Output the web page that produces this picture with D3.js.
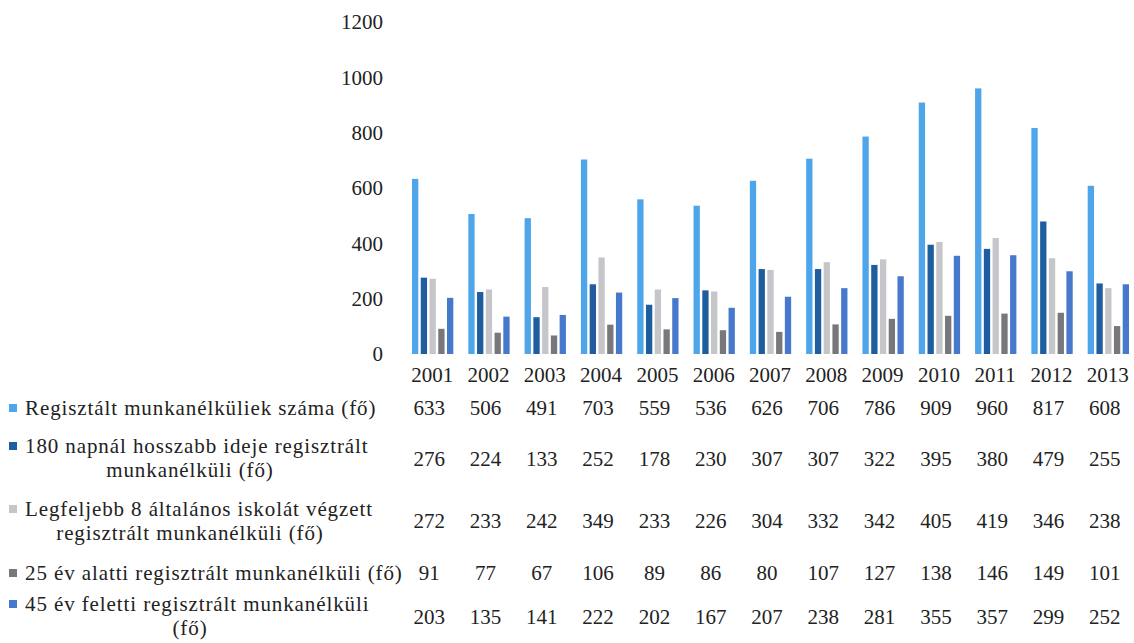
<!DOCTYPE html>
<html lang='hu'>
  <head>
    <meta charset='utf-8'>
    <title>Regisztrált munkanélküliek</title>
    <script type='text/javascript' src='https://cdn.jsdelivr.net/npm/d3@7/dist/d3.min.js'></script>
    <style>
      body { margin: 0; background: #fff; }
    </style>
  </head>
  <body>
    <script type='text/javascript'>

      var years = ['2001','2002','2003','2004','2005','2006','2007','2008','2009','2010','2011','2012','2013'];
      var registered = [633,506,491,703,559,536,626,706,786,909,960,817,608];
      var over180days = [276,224,133,252,178,230,307,307,322,395,380,479,255];
      var max8grade = [272,233,242,349,233,226,304,332,342,405,419,346,238];
      var under25 = [91,77,67,106,89,86,80,107,127,138,146,149,101];
      var over45 = [203,135,141,222,202,167,207,238,281,355,357,299,252];
      var yTicks = [0,200,400,600,800,1000,1200];

      var seriesNames = [
        ['Regisztált munkanélküliek száma (fő)'],
        ['180 napnál hosszabb ideje regisztrált', 'munkanélküli (fő)'],
        ['Legfeljebb 8 általános iskolát végzett', 'regisztrált munkanélküli (fő)'],
        ['25 év alatti regisztrált munkanélküli (fő)'],
        ['45 év feletti regisztrált munkanélküli', '(fő)']
      ];
      var seriesValues = [registered, over180days, max8grade, under25, over45];
      var colors = ['#4ea5ea', '#1f5e9e', '#c6c6ca', '#78787c', '#4678cc'];

      var w = 1134;
      var h = 643;
      var fs = 21;
      var font = "'Liberation Serif', 'Times New Roman', Times, serif";

      var svg = d3.select('body')
                  .append('svg')
                  .attr('width', w)
                  .attr('height', h)
                  .attr('font-family', font)
                  .style('font-family', font);

      var xScale = d3.scaleBand()
                     .domain(years)
                     .range([404, 1136])
                     .paddingInner(0);

      var yScale = d3.scaleLinear()
                     .domain([0, 1200])
                     .range([354, 22]);

      var inner = d3.scaleBand()
                    .domain(d3.range(5))
                    .range([8, xScale.bandwidth() - 7])
                    .paddingInner(0.28);

      // y tick labels
      svg.selectAll('text.ytick')
         .data(yTicks)
         .enter()
         .append('text')
         .attr('class', 'ytick')
         .attr('x', 383)
         .attr('y', function(d){ return yScale(d); })
         .attr('dy', '0.35em')
         .attr('text-anchor', 'end')
         .attr('font-size', fs + 'px')
         .attr('fill', '#222')
         .text(function(d){ return d; });

      // bars
      var groups = svg.selectAll('g.year')
                      .data(years)
                      .enter()
                      .append('g')
                      .attr('class', 'year')
                      .attr('transform', function(d){ return 'translate(' + xScale(d) + ',0)'; });

      groups.selectAll('rect')
            .data(function(d, i){
              return seriesValues.map(function(s, k){ return {k: k, v: s[i]}; });
            })
            .enter()
            .append('rect')
            .attr('x', function(d){ return inner(d.k); })
            .attr('y', function(d){ return yScale(d.v); })
            .attr('width', inner.bandwidth())
            .attr('height', function(d){ return yScale(0) - yScale(d.v); })
            .attr('fill', function(d){ return colors[d.k]; });

      // year labels
      svg.selectAll('text.year')
         .data(years)
         .enter()
         .append('text')
         .attr('class', 'year')
         .attr('x', function(d){ return xScale(d) + xScale.bandwidth()/2; })
         .attr('y', 375)
         .attr('dy', '0.35em')
         .attr('text-anchor', 'middle')
         .attr('font-size', fs + 'px')
         .attr('fill', '#222')
         .text(function(d){ return d; });

      // data table
      var rowY = [408, 459, 521, 573, 617];
      var lineY = [[408], [446, 470], [509, 533], [573], [604, 628]];

      seriesNames.forEach(function(lines, k){
        var row = svg.append('g');
        row.append('rect')
           .attr('x', 9)
           .attr('y', lineY[k][0] - 4)
           .attr('width', 8)
           .attr('height', 8)
           .attr('fill', colors[k]);
        row.selectAll('text.lbl')
           .data(lines)
           .enter()
           .append('text')
           .attr('x', function(d, i){ return i === 0 ? 25 : 190; })
           .attr('y', function(d, i){ return lineY[k][i]; })
           .attr('dy', '0.35em')
           .attr('text-anchor', function(d, i){ return i === 0 ? 'start' : 'middle'; })
           .attr('font-size', fs + 'px')
           .attr('letter-spacing', '0.9px')
           .attr('fill', '#222')
           .text(function(d){ return d; });
        row.selectAll('text.val')
           .data(seriesValues[k])
           .enter()
           .append('text')
           .attr('x', function(d, i){ return xScale(years[i]) + xScale.bandwidth()/2 - 3; })
           .attr('y', rowY[k])
           .attr('dy', '0.35em')
           .attr('text-anchor', 'middle')
           .attr('font-size', fs + 'px')
           .attr('fill', '#222')
           .text(function(d){ return d; });
      });

    </script>
  </body>
</html>
